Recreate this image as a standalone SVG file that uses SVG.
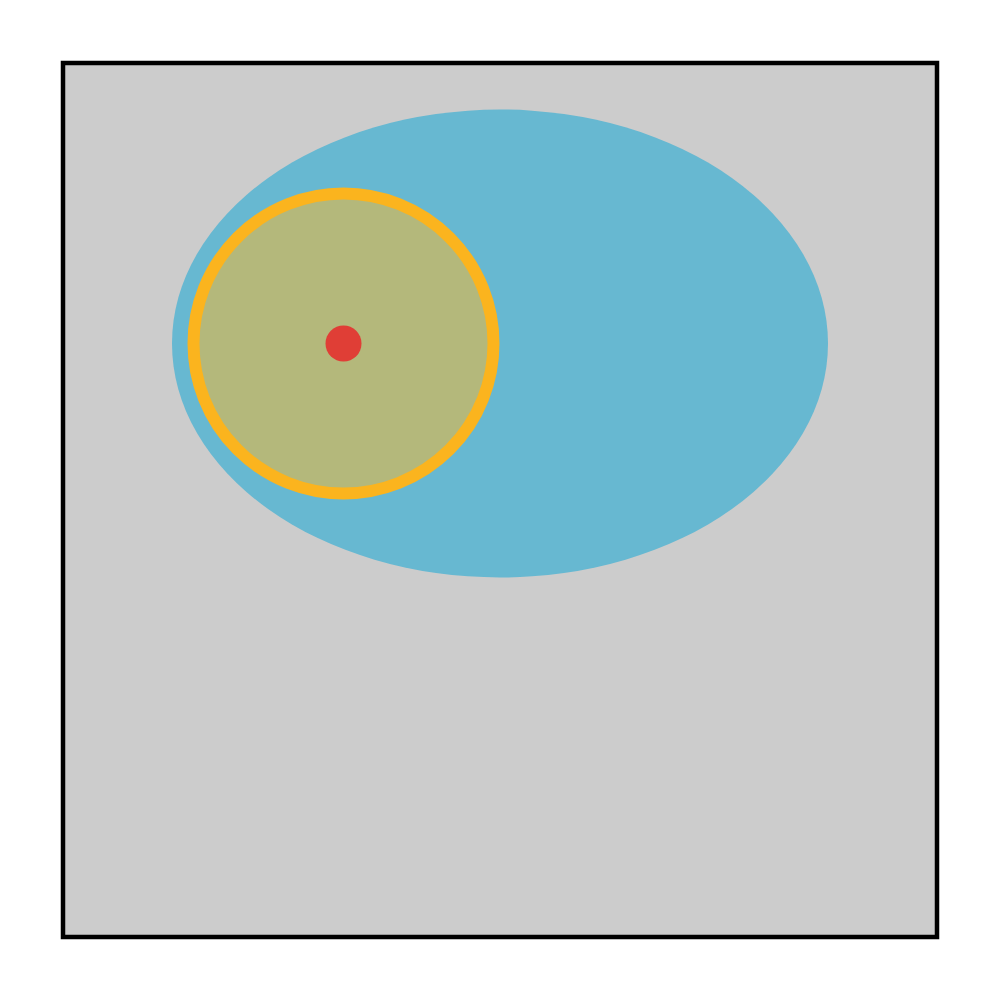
<svg xmlns="http://www.w3.org/2000/svg" width="1000" height="1000" viewBox="0 0 1000 1000">
<rect width="1000" height="1000" fill="#ffffff"/>
<g id="frame"><rect x="63" y="63" width="874" height="874" fill="#cccccc" stroke="#000000" stroke-width="4.5"/></g>
<g id="ellipse"><ellipse cx="500" cy="343.5" rx="328" ry="234" fill="#67b8d1"/></g>
<g id="circle"><circle cx="343.5" cy="343.5" r="150" fill="#b4b87b" stroke="#fbb41e" stroke-width="12"/></g>
<g id="dot"><circle cx="343.5" cy="343.5" r="18" fill="#e03e36"/></g>
</svg>
